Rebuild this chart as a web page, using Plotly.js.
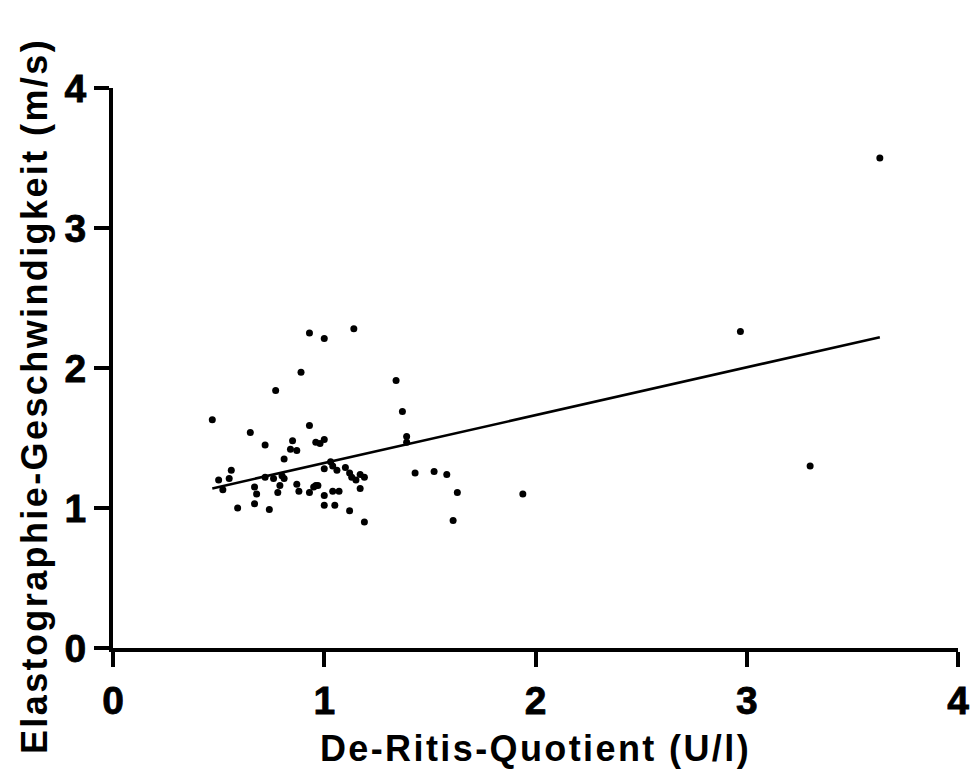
<!DOCTYPE html>
<html>
<head>
<meta charset="utf-8">
<script src="https://cdn.plot.ly/plotly-3.0.1.min.js"></script>
<style>
  html, body { margin: 0; padding: 0; background: #fff; }
  #chart { width: 974px; height: 778px; }
  .xtitle, .ytitle { letter-spacing: 2.4px; }
  .xtick text, .ytick text { stroke: #000; stroke-width: 0.8px; }
</style>
</head>
<body>
<div id="chart"></div>
<script>
// De-Ritis-Quotient (U/l)
const deRitis = [
  0.47, 0.93, 1.00, 1.14, 0.89, 0.77, 1.34, 1.37, 1.39, 1.39,
  0.65, 0.72, 0.93, 0.85, 0.84, 0.87, 0.96, 0.98, 1.00, 0.81,
  0.56, 0.50, 0.55, 0.52, 0.59, 0.67, 0.68, 0.67, 0.74, 0.72,
  0.76, 0.80, 0.81, 0.79, 0.78, 0.87, 0.88, 0.93, 0.95, 0.97,
  0.96, 1.00, 1.00, 1.05, 1.04, 1.07, 1.12, 1.19, 1.00, 1.03,
  1.04, 1.06, 1.10, 1.12, 1.13, 1.15, 1.17, 1.19, 1.17, 1.43,
  1.52, 1.58, 1.63, 1.61, 1.94, 2.97, 3.30, 3.63
];
// Elastographie-Geschwindigkeit (m/s)
const speed = [
  1.63, 2.25, 2.21, 2.28, 1.97, 1.84, 1.91, 1.69, 1.51, 1.47,
  1.54, 1.45, 1.59, 1.48, 1.42, 1.41, 1.47, 1.46, 1.49, 1.35,
  1.27, 1.20, 1.21, 1.13, 1.00, 1.15, 1.10, 1.03, 0.99, 1.22,
  1.21, 1.23, 1.21, 1.16, 1.11, 1.17, 1.12, 1.11, 1.15, 1.16,
  1.16, 1.09, 1.02, 1.02, 1.12, 1.12, 0.98, 0.90, 1.28, 1.33,
  1.30, 1.27, 1.29, 1.25, 1.22, 1.20, 1.24, 1.22, 1.14, 1.25,
  1.26, 1.24, 1.11, 0.91, 1.10, 2.26, 1.30, 3.50
];
// Regression line end points as drawn
const fitX = [0.47, 3.63];
const fitY = [1.14, 2.22];

const xTicks = [0, 1, 2, 3, 4];
const yTicks = [0, 1, 2, 3, 4];

const FONT = "Liberation Sans, Arial, Helvetica, sans-serif";

const traces = [
  {
    x: deRitis, y: speed, type: "scatter", mode: "markers",
    marker: { color: "#000", size: 7 },
    hoverinfo: "x+y", showlegend: false
  },
  {
    x: fitX, y: fitY, type: "scatter", mode: "lines",
    line: { color: "#000", width: 2.6 },
    hoverinfo: "skip", showlegend: false
  }
];

const layout = {
  width: 974, height: 778,
  paper_bgcolor: "#fff", plot_bgcolor: "#fff",
  margin: { l: 113, r: 16, t: 88, b: 130 },
  showlegend: false,
  xaxis: {
    range: [0, 4], tickvals: xTicks, ticktext: xTicks.map(String),
    showgrid: false, zeroline: false,
    showline: true, linecolor: "#000", linewidth: 4,
    ticks: "outside", ticklen: 15, tickwidth: 4, tickcolor: "#000",
    tickfont: { family: FONT, size: 39, color: "#000", weight: "bold" },
    title: { text: "De-Ritis-Quotient (U/l)", font: { family: FONT, size: 36, color: "#000", weight: "bold" }, standoff: 16 }
  },
  yaxis: {
    range: [0, 4], tickvals: yTicks, ticktext: yTicks.map(String),
    showgrid: false, zeroline: false,
    showline: true, linecolor: "#000", linewidth: 4,
    ticks: "outside", ticklen: 15, tickwidth: 4, tickcolor: "#000",
    tickfont: { family: FONT, size: 39, color: "#000", weight: "bold" },
    title: { text: "Elastographie-Geschwindigkeit (m/s)", font: { family: FONT, size: 36, color: "#000", weight: "bold" }, standoff: 10 }
  }
};

Plotly.newPlot("chart", traces, layout, { displayModeBar: false, staticPlot: true }).then(function (gd) {
  // the reference's y-axis title sits lower than the plot-area centre
  const yt = gd.querySelector(".ytitle");
  if (yt) {
    const t = yt.getAttribute("transform") || "";
    yt.setAttribute("transform", "translate(3,28) " + t);
  }
});
</script>
</body>
</html>
